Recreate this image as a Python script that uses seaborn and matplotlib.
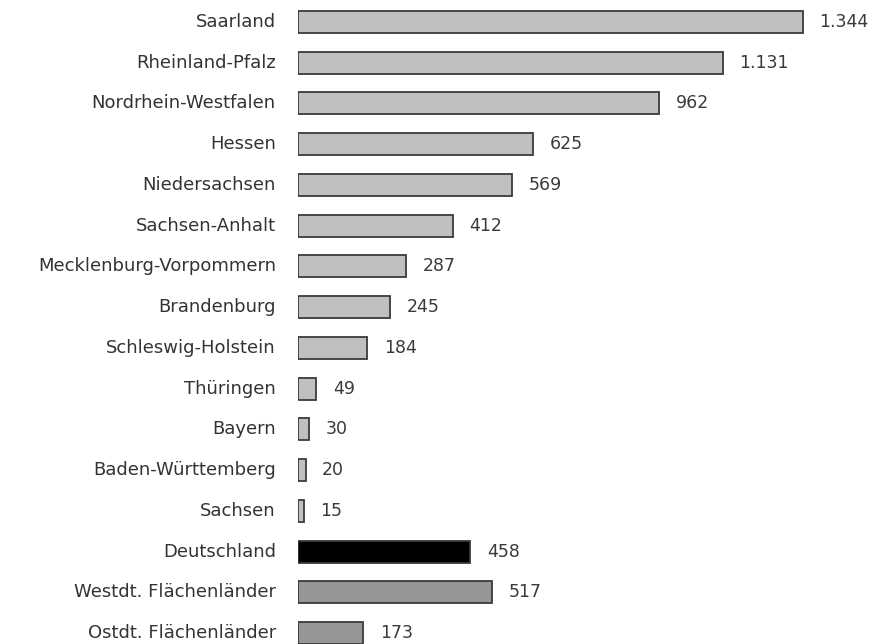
import matplotlib
matplotlib.use("Agg")
import matplotlib.pyplot as plt
import seaborn as sns
import pandas as pd

laender = ["Saarland", "Rheinland-Pfalz", "Nordrhein-Westfalen", "Hessen", "Niedersachsen",
           "Sachsen-Anhalt", "Mecklenburg-Vorpommern", "Brandenburg", "Schleswig-Holstein",
           "Thüringen", "Bayern", "Baden-Württemberg", "Sachsen", "Deutschland",
           "Westdt. Flächenländer", "Ostdt. Flächenländer"]
werte = [1344, 1131, 962, 625, 569, 412, 287, 245, 184, 49, 30, 20, 15, 458, 517, 173]
farben = ["#c0c0c0"] * 13 + ["#000000", "#969696", "#969696"]

sns.set_theme(style="white")
plt.rcParams['font.family'] = ['DejaVu Sans']

df = pd.DataFrame({"land": laender, "wert": werte})

fig = plt.figure(figsize=(8.77, 6.44), dpi=100)
ax = fig.add_axes([298 / 877, 0, 1 - 298 / 877, 1])
sns.barplot(data=df, y="land", x="wert", hue="land", palette=farben, legend=False,
            orient="h", width=0.54, edgecolor="#3a3a3a", linewidth=1.3, saturation=1, ax=ax)

ax.set_xlim(0, (877 - 298) / 0.3757)
ax.set_ylim(15 + 11 / 40.73, -22 / 40.73)
for c in ax.containers:
    ax.bar_label(c, labels=[f"{int(v):,}".replace(",", ".") for v in c.datavalues],
                 padding=12, fontsize=12.5, color="#3a3a3a")
ax.set_xlabel("")
ax.set_ylabel("")
ax.set_xticks([])
ax.tick_params(axis="y", length=0, pad=16, labelsize=13, labelcolor="#333333")
for lbl in ax.get_yticklabels():
    lbl.set_verticalalignment("center")
for s in ax.spines.values():
    s.set_visible(False)
ax.patch.set_alpha(0)

fig.savefig("out.png", dpi=100)
